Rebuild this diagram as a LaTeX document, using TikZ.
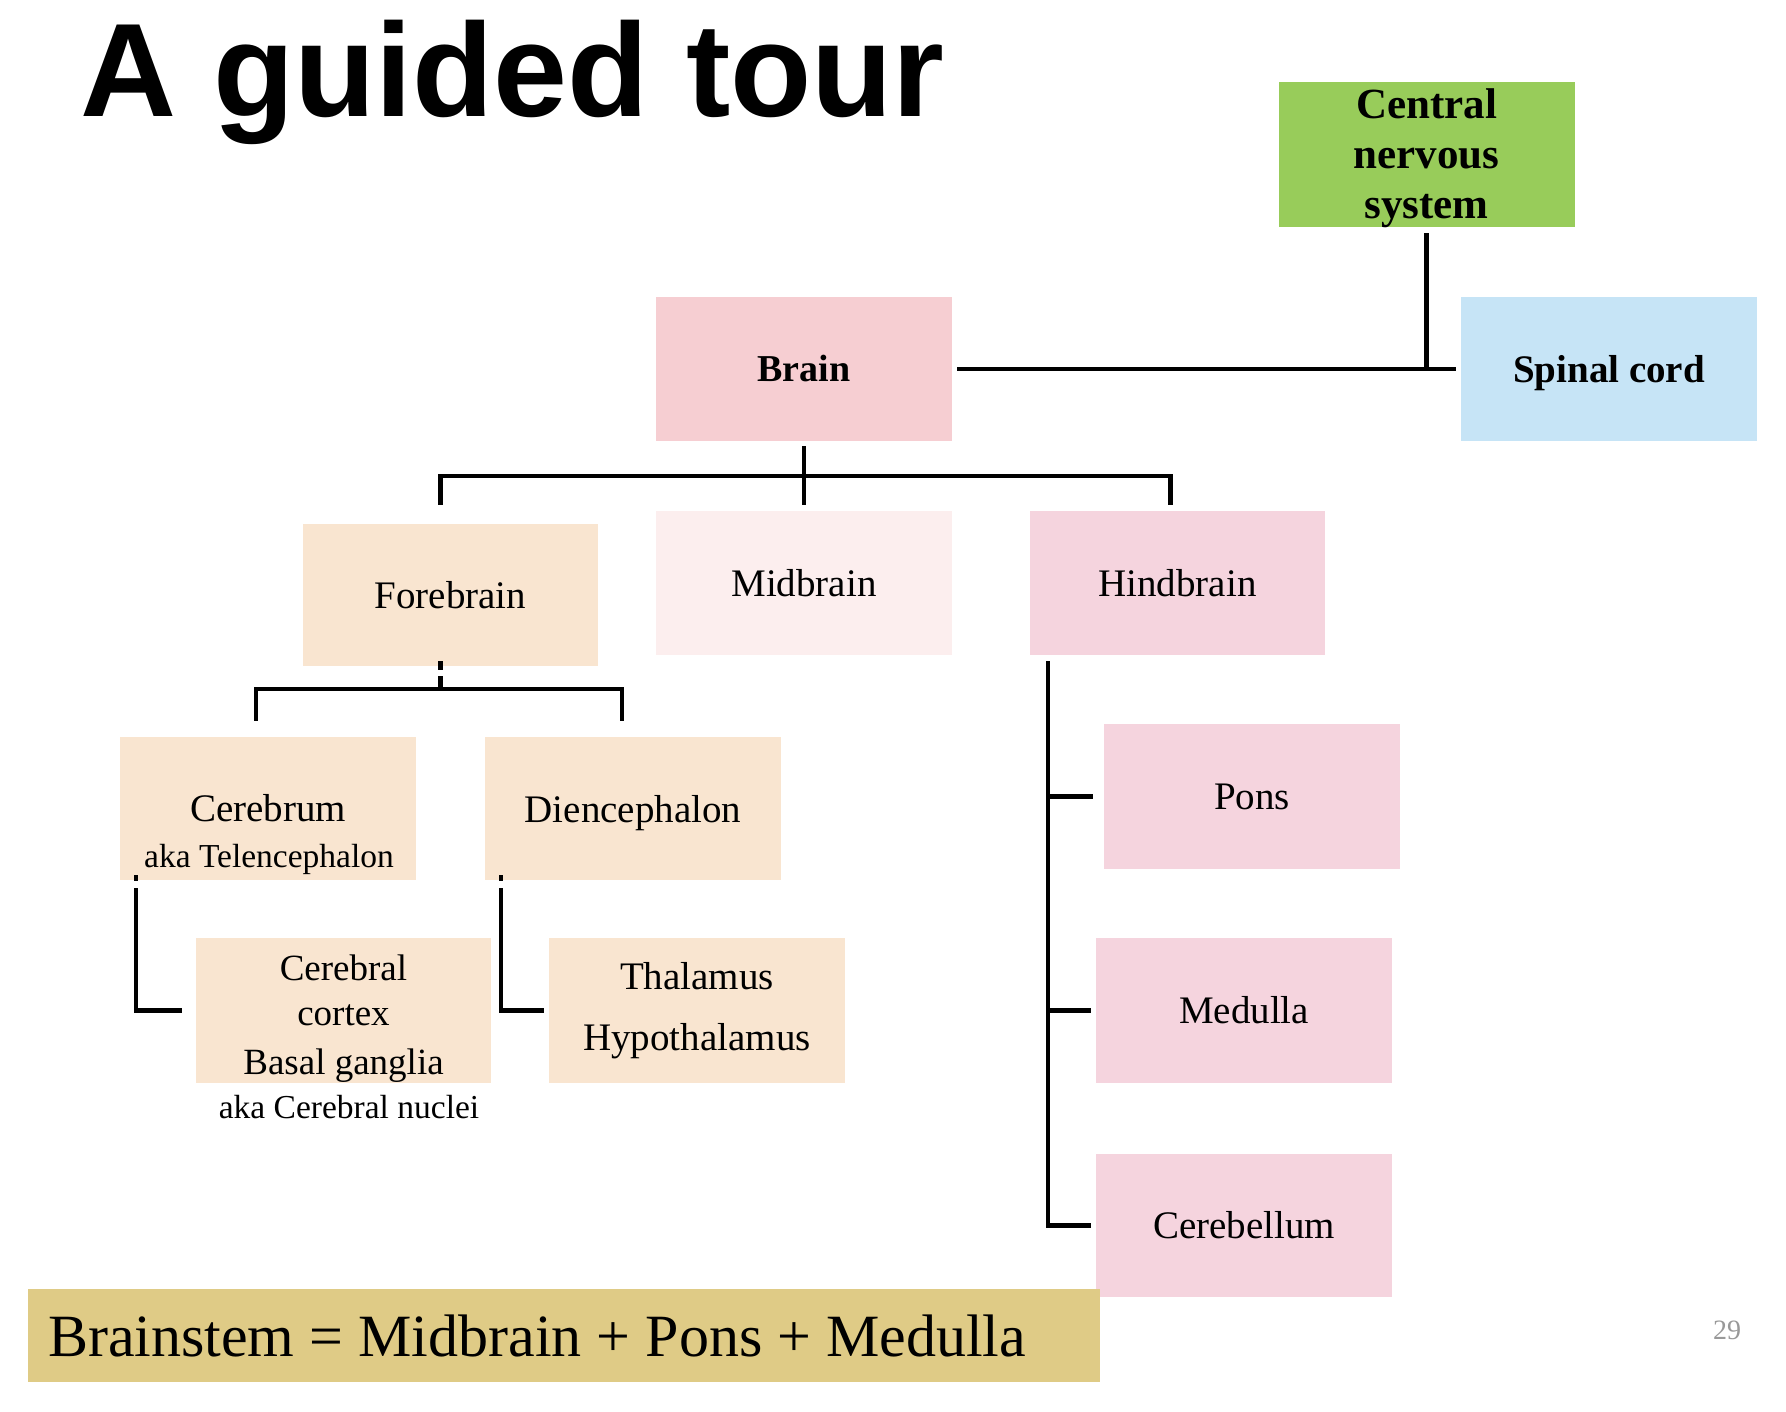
\documentclass[tikz,border=0pt]{standalone}
\usepackage{fontspec}
\setmainfont{Liberation Serif}
\newfontfamily\titlefont{Liberation Sans}
\definecolor{cnsgreen}{RGB}{152,204,90}
\definecolor{spblue}{RGB}{198,228,246}
\definecolor{brainpink}{RGB}{246,206,210}
\definecolor{peach}{RGB}{249,229,208}
\definecolor{midpink}{RGB}{252,238,238}
\definecolor{hindpink}{RGB}{245,212,222}
\definecolor{stemgold}{RGB}{223,203,134}
\newcommand\boxfont{\fontsize{39}{46}\selectfont}
\newcommand\akafont{\fontsize{33.5}{40}\selectfont}
\begin{document}
\begin{tikzpicture}[x=1pt,y=-1pt,
  box/.style={rectangle, inner sep=0pt, minimum width=296pt, minimum height=144pt,
              align=center, font=\boxfont},
  conn/.style={line width=4.5pt, black},
  aka/.style={inner sep=0pt, font=\akafont},
]
\useasboundingbox[fill=white] (0,0) rectangle (1786,1412);

% title
\node[anchor=base west, inner sep=0pt, font=\titlefont\bfseries\fontsize{133}{133}\selectfont]
  (title) at (80,117) {A guided tour};

% top level
\node[box, fill=cnsgreen, minimum height=145pt, font=\bfseries\fontsize{43}{50}\selectfont]
  (cns) at (1426.5,154.5) {};
\node[inner sep=0pt, align=center, font=\bfseries\fontsize{43}{50}\selectfont]
  (cnstext) at ([yshift=-4pt]cns.center) {Central\\nervous\\system};
\node[box, fill=spblue, text depth=0pt, font=\bfseries\boxfont] (spinal) at (1609,369) {Spinal cord};
\node[box, fill=brainpink, font=\bfseries\fontsize{38}{46}\selectfont] (brain) at (804,369) {Brain};

% brain divisions
\node[box, fill=peach, minimum width=295pt, minimum height=142pt] (forebrain) at (450.5,595) {Forebrain};
\node[box, fill=midpink] (midbrain) at (804,583) {Midbrain};
\node[box, fill=hindpink, minimum width=295pt] (hindbrain) at (1177.5,583) {Hindbrain};

% forebrain parts
\node[box, fill=peach, minimum height=143pt] (cerebrum) at (268,808.5) {Cerebrum};
\node[aka] (tele) at (269,859) {aka Telencephalon};
\node[box, fill=peach, minimum height=143pt, text depth=0pt] (diencephalon) at (633,808.5) {Diencephalon};
\node[box, fill=peach, minimum width=295pt, minimum height=145pt] (cortex) at (343.5,1010.5) {};
\node[inner sep=0pt, align=center, font=\fontsize{37}{45}\selectfont]
  (cortextext) at ([yshift=-8pt]cortex.center) {Cerebral\\cortex\\[4pt]Basal ganglia};
\node[aka] (nuclei) at (349,1107) {aka Cerebral nuclei};
\node[box, fill=peach, minimum height=145pt, font=\fontsize{39}{61}\selectfont]
  (thalamus) at (697,1010.5) {Thalamus\\Hypothalamus};

% hindbrain parts
\node[box, fill=hindpink, minimum height=145pt] (pons) at (1252,796.5) {Pons};
\node[box, fill=hindpink, minimum height=145pt] (medulla) at (1244,1010.5) {Medulla};
\node[box, fill=hindpink, minimum height=143pt] (cerebellum) at (1244,1225.5) {Cerebellum};

% brainstem summary
\node[rectangle, inner sep=0pt, fill=stemgold, minimum width=1072pt, minimum height=93pt]
  (brainstem) at (564,1335.5) {};
\node[anchor=west, inner sep=0pt, font=\fontsize{60}{66}\selectfont]
  (stemtext) at ([xshift=20pt]brainstem.west) {Brainstem = Midbrain + Pons + Medulla};

% page number
\node[inner sep=0pt, text=black!40, font=\fontsize{28}{30}\selectfont] (page) at (1727,1330) {29};

% connectors: CNS
\draw[conn] ([xshift=5pt]brain.east) -- ([xshift=-5pt]spinal.west);
\draw[conn] ([yshift=-6pt]cns.south) -- (cns.south |- brain.east);

% connectors: brain divisions
\draw[conn] ([yshift=-5pt]brain.south) -- ([yshift=6pt]midbrain.north);
\draw[conn] ([xshift=-10pt,yshift=19pt]forebrain.north) |- ([yshift=-35pt]brain.south)
  -| ([xshift=-7pt,yshift=6pt]hindbrain.north);

% connectors: forebrain
\draw[conn, dash pattern=on 9pt off 6pt on 60pt] ([xshift=-10pt,yshift=5pt]forebrain.south)
  -- ([xshift=-10pt,yshift=-23pt]forebrain.south);
\draw[conn] ([xshift=-12pt,yshift=16pt]cerebrum.north) |- ([xshift=-10pt,yshift=-23pt]forebrain.south)
  -| ([xshift=-11pt,yshift=16pt]diencephalon.north);
\draw[conn, dash pattern=on 6pt off 7pt on 300pt] ([xshift=-132pt,yshift=5pt]cerebrum.south)
  |- ([xshift=-14pt]cortex.west);
\draw[conn, dash pattern=on 6pt off 7pt on 300pt] ([xshift=-132pt,yshift=5pt]diencephalon.south)
  |- ([xshift=-5pt]thalamus.west);

% connectors: hindbrain
\coordinate (hbx) at ([xshift=-129.5pt,yshift=-6pt]hindbrain.south);
\draw[conn] (hbx) |- ([xshift=-5pt]cerebellum.west);
\draw[conn] (hbx |- pons.west) -- ([xshift=-11pt]pons.west);
\draw[conn] (hbx |- medulla.west) -- ([xshift=-5pt]medulla.west);
\end{tikzpicture}
\end{document}
